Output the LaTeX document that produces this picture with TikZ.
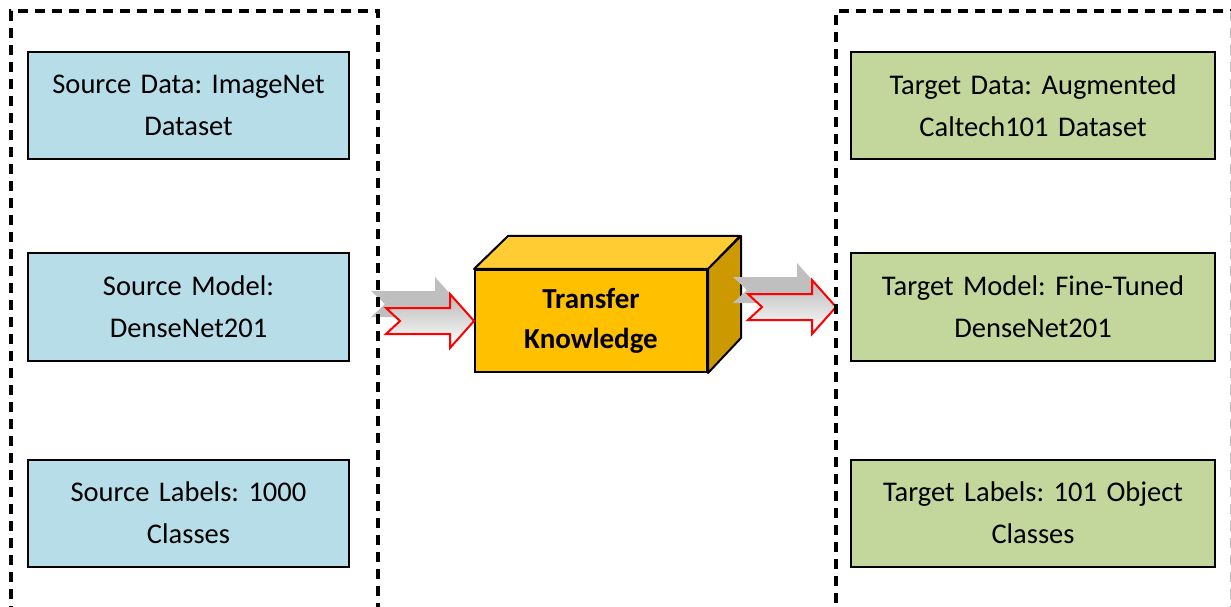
\documentclass[tikz,border=0pt]{standalone}
\usepackage{fontspec}
\setmainfont{Carlito}
\usetikzlibrary{calc}
\definecolor{srcblue}{HTML}{B7DDE8}
\definecolor{tgtgreen}{HTML}{C3D69B}
\definecolor{cubefront}{HTML}{FFC000}
\definecolor{cubetop}{HTML}{FFCD33}
\definecolor{cubeside}{HTML}{CC9A00}
\definecolor{shadowgray}{HTML}{BFBFBF}

\begin{document}
\frenchspacing
\begin{tikzpicture}[x=1pt,y=1pt,
  infobox/.style={draw=black, line width=2pt, minimum height=107pt, align=center,
    font=\fontsize{28.5}{42}\selectfont, inner sep=0pt},
  srcbox/.style={infobox, fill=srcblue, minimum width=321pt, text width=310pt},
  tgtbox/.style={infobox, fill=tgtgreen, minimum width=364pt, text width=350pt},
  frame/.style={draw=black, line width=3.2pt, dash pattern=on 10pt off 7pt},
  cubeedge/.style={draw=black, line width=2pt, line join=round},
  fatarrow/.pic={
    \path[pic actions] (0,0) -- (-24,27) -- (-24,13) -- (-88,13) -- (-74,0)
      -- (-88,-13) -- (-24,-13) -- (-24,-27) -- cycle;
  },
  arrowshadow/.style={fill=shadowgray},
  arrowbody/.style={draw=red, line width=2pt, line join=miter, top color=gray!55, bottom color=white},
]
\useasboundingbox (0,0) rectangle (1231,606);

% source side
\node[srcbox] (sd) at (188.5,500.5) {Source Data: ImageNet\\Dataset};
\node[srcbox] (sm) at (188.5,299) {Source Model:\\DenseNet201};
\node[srcbox] (sl) at (188.5,93) {Source Labels: 1000\\Classes};

% target side
\node[tgtbox] (td) at (1033,500.5) {Target Data: Augmented\\Caltech101 Dataset};
\node[tgtbox] (tm) at (1033,299) {Target Model: Fine-Tuned\\DenseNet201};
\node[tgtbox] (tl) at (1033,93) {Target Labels: 101 Object\\Classes};

% the transfer cube
\node[draw=black, line width=2pt, fill=cubefront, minimum width=232pt, minimum height=102pt,
  align=center, font=\fontsize{29}{40}\selectfont\bfseries, inner sep=0pt]
  (tk) at (591,285) {Transfer\\Knowledge};
\path[cubeedge, fill=cubetop] (tk.north west) -- ++(34,33) -- ++(232,0) -- (tk.north east) -- cycle;
\path[cubeedge, fill=cubeside] (tk.north east) -- ++(33,33) -- ++(0,-102) -- (tk.south east) -- cycle;

% dashed frames
\coordinate (lf) at (378,595);
\coordinate (rf) at (836,595);

% arrows into and out of the cube
\pic[arrowshadow] at ($(tk.west)+(-15,17)$) {fatarrow};
\pic[arrowbody] at (tk.west) {fatarrow};
\pic[arrowshadow] at ($(tm.west -| rf)+(-15,17)$) {fatarrow};
\pic[arrowbody] at (tm.west -| rf) {fatarrow};

\draw[frame] (11,-10) -- (11,595) -- (lf) -- (378,-10);
\draw[frame] (1240,595) -- (rf) -- (836,-10);
\draw[frame, draw=black!25] (1231.5,595) -- (1231.5,-10);
\end{tikzpicture}
\end{document}
